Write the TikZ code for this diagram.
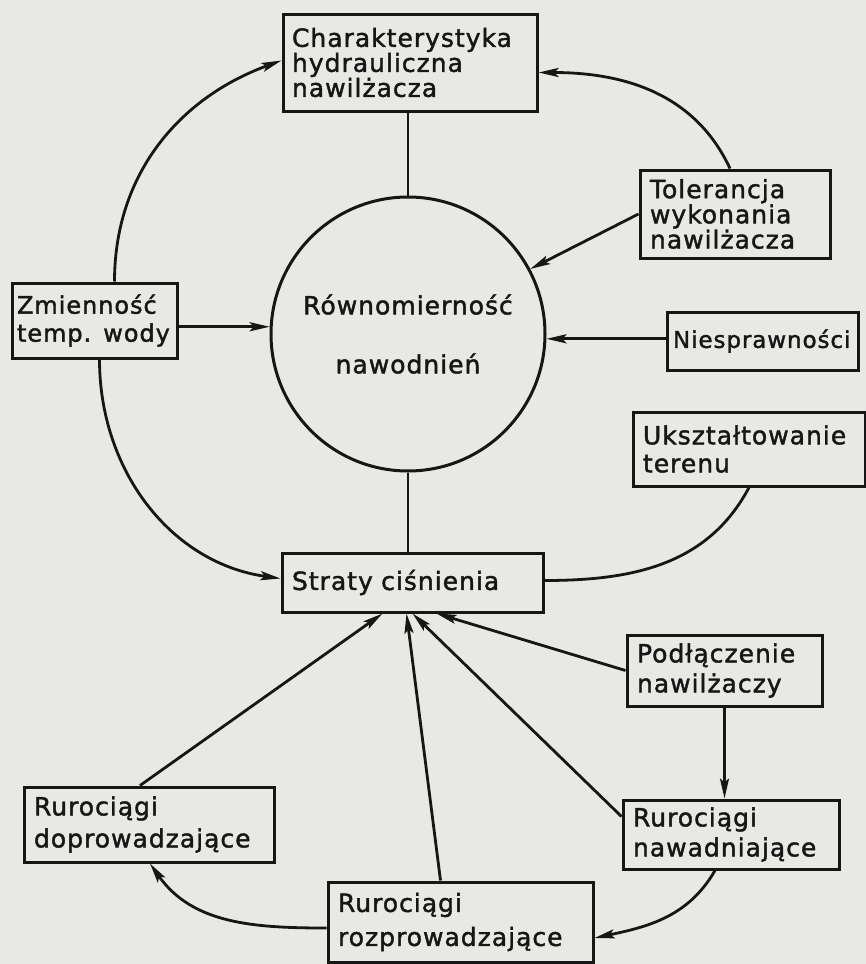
\documentclass[tikz,border=0pt]{standalone}
\usepackage{fontspec}
\setmainfont[LetterSpace=4,FakeBold=1.6]{DejaVu Sans}
\usetikzlibrary{arrows.meta}
\definecolor{paper}{RGB}{232,232,229}
\definecolor{ink}{RGB}{22,22,22}
\tikzset{
  box/.style={draw=ink, line width=3pt, inner xsep=10pt, inner ysep=0pt, align=left, text=ink},
  fs/.style={font=\fontsize{25}{#1}\selectfont},
  arr/.style={draw=ink, line width=2.8pt, -{Stealth[length=20pt,width=9pt,inset=4pt]}},
  ln/.style={draw=ink, line width=2.8pt},
}
\begin{document}
\begin{tikzpicture}[x=1pt,y=1pt]
\fill[paper] (0,0) rectangle (866,-964);
\useasboundingbox (0,0) rectangle (866,-964);

\node[box, fs=25, text width=236pt, minimum height=97pt, inner xsep=9pt] (char) at (410,-62.5) {Charakterystyka\\hydrauliczna\\nawilżacza};
\node[box, fs=23, text width=170pt, minimum height=88pt] (tol) at (735,-214) {Tolerancja\\wykonania\\nawilżacza};
\node[box, font=\fontsize{24}{28}\selectfont, text width=155pt, minimum height=75pt, inner xsep=5pt] (zmi) at (94.5,-320.5) {Zmienność\\temp. wody};
\node[box, font=\fontsize{23}{25}\selectfont, text width=179pt, minimum height=58pt, inner xsep=6pt] (nie) at (762.5,-341) {Niesprawności};
\node[box, fs=28, text width=212pt, minimum height=74pt] (uks) at (749,-449) {Ukształtowanie\\terenu};
\node[box, fs=25, text width=241pt, minimum height=59pt] (str) at (412.5,-582.5) {Straty ciśnienia};
\node[box, fs=30, text width=175pt, minimum height=71pt] (pod) at (724.5,-670.5) {Podłączenie\\nawilżaczy};
\node[box, fs=30, text width=196pt, minimum height=69pt] (naw) at (731,-834.5) {Rurociągi\\nawadniające};
\node[box, fs=34, text width=245pt, minimum height=80pt] (roz) at (460.5,-922) {Rurociągi\\rozprowadzające};
\node[box, fs=32, text width=230pt, minimum height=75pt] (dop) at (149,-824.5) {Rurociągi\\doprowadzające};

\node[draw=ink, circle, line width=3pt, minimum size=274pt, inner sep=0pt, align=center, text=ink, fs=59] (c) at (408,-334) {Równomierność\\nawodnień};

% straight connectors without arrows
\draw[ln] (c.north) -- (c.north |- char.south);
\draw[ln] (c.south) -- (c.south |- str.north);

% arrows into the circle
\draw[arr] (zmi.east |- c.177) -- (c.177);
\draw[arr] (nie.west |- c.-2) -- (c.-2);
\draw[arr] (tol.west) -- (c.28);

% curves around
\draw[arr] ([xshift=20pt]zmi.north) to[out=90, in=200] ([yshift=2pt]char.west);
\draw[arr] ([xshift=5pt]zmi.south) to[out=-90, in=172] ([yshift=4pt]str.west);
\draw[arr] ([xshift=-5pt]tol.north) to[out=115, in=0] ([yshift=-10pt]char.east);
\draw[ln] (uks.south) to[out=-118, in=0] ([yshift=2pt]str.east);

% arrows into Straty
\draw[arr] (pod.west) -- ([xshift=24pt]str.south);
\draw[arr] ([yshift=-18pt]naw.north west) -- ([xshift=0pt]str.south);
\draw[arr] ([xshift=-20pt]roz.north) -- ([xshift=-6pt]str.south);
\draw[arr] ([xshift=-9pt]dop.north) -- ([xshift=-30pt]str.south);

% lower chain
\draw[arr] (pod.south) -- (pod.south |- naw.north);
\draw[arr] ([xshift=-16pt]naw.south) to[out=-120, in=12] ([yshift=-16pt]roz.east);
\draw[arr] ([yshift=-6pt]roz.west) to[out=180, in=-55] ([xshift=1pt]dop.south);
\end{tikzpicture}
\end{document}
